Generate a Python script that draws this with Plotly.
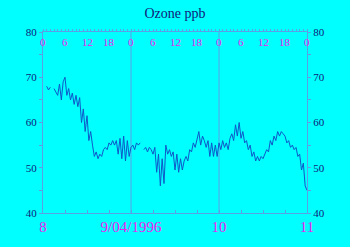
import plotly.graph_objects as go

# Ozone (ppb), half-hourly samples starting 8/04/1996 00:00
ozone = [
    None, None, 68, 67.2, 67.8, None, 67.5, 66.8, 66, 68.5, 65, 69, 70, 66, 67.5, 65,
    66.5, 64, 66, 63.5, 65.5, 60, 63, 58, 61.5, 56, 58, 55, 52.5, 53.5, 52, 53,
    52.5, 54, 54.5, 54, 55.5, 55, 56, 55, 56, 53, 56.5, 52, 57, 51.5, 56, 52.5,
    # day 2
    54.5, 55, 54, 55.5, 55, 55.5, None, 54, 54.5, 53.5, 54.5, 54, 53, 54.5, 49, 53,
    46, 52, 46.5, 55, 53, 54, 52.5, 53.5, 49.5, 53, 49, 52, 49.5, 51.5, 52.5, 51.5,
    54, 53.5, 55.5, 54.5, 56, 58, 55, 57, 56, 54.5, 56, 52.5, 55.5, 52.5, 55, 52.5,
    # day 3
    55.5, 54, 56, 54.5, 55.5, 54, 56.5, 57.5, 56, 59.5, 57, 60, 56.5, 58, 55.5, 56,
    54, 55, 52.5, 53.5, 51.5, 52.5, 51.5, 52.5, 52, 53, 54, 53.5, 56, 55, 57, 56,
    58, 57, 58, 57.5, 57, 55.5, 56, 54.5, 55, 54, 54.5, 52.5, 53, 49.5, 51, 46, 45,
]
hours = [i * 0.5 for i in range(len(ozone))]

day_ticks = [0, 24, 48, 72]
day_labels = {0: "8", 24: "9/04/1996", 48: "10", 72: "11"}
six_ticks = list(range(0, 73, 6))
bottom_text = [day_labels.get(h, "") for h in six_ticks]
hour_ticks = list(range(0, 73, 1))
hour_labels = [str(h % 24) for h in six_ticks]
y_ticks = list(range(40, 81, 5))
y_text = [str(v) if v % 10 == 0 else "" for v in y_ticks]

axis_col = "#5aa0e6"
mag = "#f020f0"
navy = "#101a78"
serif = "Liberation Serif"

fig = go.Figure()
fig.add_trace(go.Scatter(x=hours, y=ozone, mode="lines",
                         line=dict(color="#1058c8", width=1),
                         connectgaps=False, showlegend=False, hoverinfo="skip"))
# invisible trace so the secondary (top/right) axes are drawn
fig.add_trace(go.Scatter(x=[day_ticks[0], day_ticks[-1]], y=[None, None],
                         xaxis="x2", yaxis="y2", mode="lines",
                         showlegend=False, hoverinfo="skip"))

for d in day_ticks[1:-1]:
    fig.add_vline(x=d, line=dict(color=axis_col, width=1), layer="below")

# hour-of-day labels just inside the top axis
for h, t in zip(six_ticks, hour_labels):
    fig.add_annotation(x=h, y=1, xref="x", yref="paper", text=t, showarrow=False,
                       xanchor="center", yanchor="top", yshift=-2,
                       font=dict(family=serif, size=11, color=mag))

fig.update_layout(
    width=350, height=247,
    margin=dict(l=43, r=43, t=32, b=31),
    paper_bgcolor="#00ffff", plot_bgcolor="#00ffff",
    title=dict(text="Ozone ppb", x=0.5, xanchor="center", y=0.945, yanchor="middle",
               font=dict(family=serif, size=14, color=navy)),
    xaxis=dict(range=[0, 72], tickmode="array", tickvals=six_ticks, ticktext=bottom_text,
               showline=True, linecolor=axis_col, linewidth=1, showgrid=False,
               ticks="inside", ticklen=3, tickcolor=axis_col,
               tickfont=dict(family=serif, size=15, color=mag), zeroline=False),
    xaxis2=dict(range=[0, 72], overlaying="x", side="top", anchor="y2",
                tickmode="array", tickvals=hour_ticks, showticklabels=False,
                showline=True, linecolor=axis_col, linewidth=1, showgrid=False,
                ticks="outside", ticklen=2, tickcolor=axis_col, zeroline=False),
    yaxis=dict(range=[40, 80], tickmode="array", tickvals=y_ticks, ticktext=y_text,
               showline=True, linecolor=axis_col, linewidth=1, showgrid=False,
               ticks="outside", ticklen=3, tickcolor=axis_col,
               tickfont=dict(family=serif, size=11, color=navy), zeroline=False),
    yaxis2=dict(range=[40, 80], overlaying="y", side="right", anchor="x2",
                tickmode="array", tickvals=y_ticks, ticktext=y_text,
                showline=True, linecolor=axis_col, linewidth=1, showgrid=False,
                ticks="outside", ticklen=3, tickcolor=axis_col,
                tickfont=dict(family=serif, size=11, color=navy), zeroline=False),
)

fig.write_html("out.html")
